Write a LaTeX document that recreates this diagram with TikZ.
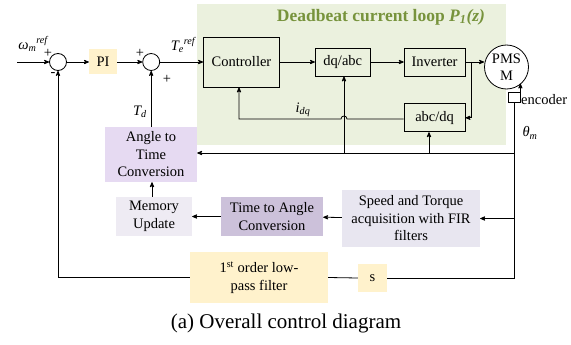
\documentclass[tikz,border=0pt]{standalone}
\usepackage{fontspec}
\setmainfont{Liberation Serif}
\usetikzlibrary{arrows, positioning, shapes}
\definecolor{my_green}{RGB}{235, 241, 222}
\definecolor{my_olive}{RGB}{119, 147, 60}
\definecolor{my_yellow}{RGB}{255, 242, 204}
\definecolor{my_lilac}{RGB}{230, 218, 242}
\definecolor{my_purple}{RGB}{204, 193, 218}
\definecolor{my_grey}{RGB}{238, 235, 243}
\definecolor{my_mist}{RGB}{232, 230, 240}
\tikzset {
  block/.style = {draw, line width=0.8pt, text centered, inner sep=2pt},
  flat/.style = {text centered, align=center, inner sep=2pt},
  junction/.style = {draw, line width=0.8pt, circle, fill=white, minimum size=17pt, inner sep=0},
  motor/.style = {draw, line width=0.8pt, circle, fill=white, minimum size=44pt, inner sep=0, align=center},
  line/.style = {->, line width=0.8pt, color=black, >=stealth'},
  wire/.style = {line width=0.8pt, color=black},
  sign/.style = {inner sep=0}
}

\begin{document}
\begin{tikzpicture}[x=1pt, y=-1pt, font=\fontsize{14.5}{17.5}\selectfont]
    \useasboundingbox (0,0) rectangle (571,345);
    \fill[my_green] (197,4) rectangle (506,145);
    \node[sign, text=my_olive, font=\fontsize{17.5}{20}\selectfont\bfseries] (title) at (381,17) {Deadbeat current loop \textit{P\textsubscript{1}(z)}};

    \node[junction] (sum1) at (58,62) {};
    \node[flat, fill=my_yellow, minimum width=28pt, minimum height=25pt, right=22pt of sum1] (pi) {PI};
    \node[junction, right=25pt of pi] (sum2) {};
    \node[block, minimum width=76pt, minimum height=50pt, right=43pt of sum2] (ctrl) {Controller};
    \node[block, minimum width=55pt, minimum height=28pt, right=35pt of ctrl] (dqabc) {dq/abc};
    \node[block, minimum width=61pt, minimum height=28pt, right=33pt of dqabc] (inv) {Inverter};
    \node[block, minimum width=61pt, minimum height=28pt, below=27pt of inv] (abcdq) {abc/dq};
    \node[motor] (pmsm) at (506.5,67) {PMS\\[-1pt]M};
    \node[draw, line width=0.8pt, fill=white, minimum width=12pt, minimum height=10pt, inner sep=0] (enc) at (514,97) {};

    \node[flat, fill=my_lilac, minimum width=92pt, minimum height=55pt] (a2t) at (151,154.5) {Angle to\\Time\\Conversion};
    \node[flat, fill=my_grey, minimum width=76pt, minimum height=39pt] (mem) at (154,216.5) {Memory\\Update};
    \node[flat, fill=my_purple, minimum width=102pt, minimum height=39pt] (t2a) at (272,216.5) {Time to Angle\\Conversion};
    \node[flat, fill=my_mist, minimum width=138pt, minimum height=57pt] (fir) at (411,218.5) {Speed and Torque\\acquisition with FIR\\filters};
    \node[flat, fill=my_yellow, minimum width=138pt, minimum height=51pt] (lpf) at (259,277.5) {1\textsuperscript{st} order low-\\pass filter};
    \node[flat, fill=my_yellow, minimum width=29pt, minimum height=28pt] (s) at (372.5,278) {s};

    % labels
    \node[sign] (wref) at (33,44) {\textit{ω\textsubscript{m}\textsuperscript{ref}}};
    \node[sign] (p1) at (48,53) {+};
    \node[sign] (m1) at (53,75) {-};
    \node[sign] (p2) at (140,53) {+};
    \node[sign] (p3) at (167,79) {+};
    \node[sign] (teref) at (183,45) {\textit{T\textsubscript{e}\textsuperscript{ref}}};
    \node[sign] (td) at (140,112) {\textit{T\textsubscript{d}}};
    \node[sign] (idq) at (303,110) {\textit{i\textsubscript{dq}}};
    \node[sign] (theta) at (530,133) {\textit{θ\textsubscript{m}}};
    \node[sign, anchor=west] (enctext) at (521,100) {encoder};
    \node[sign, font=\fontsize{21}{24}\selectfont] (caption) at (286,323) {(a) Overall control diagram};

    \coordinate (in) at (17,62);
    \coordinate (split) at (471,62);
    \coordinate (tapA) at (344,153);
    \coordinate (tapB) at (429,153);
    \coordinate (thtop) at (enc.south |- tapA);

    \draw[line] (in) -- (sum1);
    \draw[line] (sum1) -- (pi);
    \draw[line] (pi) -- (sum2);
    \draw[line] (sum2) -- (ctrl);
    \draw[line] (ctrl) -- (dqabc);
    \draw[line] (dqabc) -- (inv);
    \draw[line] (inv.east) -- (pmsm.west |- inv.east);
    \draw[line] (split) |- (abcdq.east);
    \draw[line] (abcdq.west |- 0,119) -- (347,119) .. controls (347,115) and (341,115) .. (341,119) -| (ctrl.south -| 239,0);
    \draw[line] (enc.north east) -- ++(0,-8);
    \draw[wire] (enc.south) -- (enc.south |- s.east) -- (s.east);
    \draw[wire] (s.west) -- (lpf.east);
    \draw[line] (lpf.west) -| (sum1.south);
    \draw[line] (thtop) -- (a2t.east |- thtop);
    \draw[line] (tapA) -- (tapA |- dqabc.south);
    \draw[line] (tapB) -- (tapB |- abcdq.south);
    \draw[line] (enc.south |- fir.east) -- (fir.east);
    \draw[line] (fir) -- (t2a);
    \draw[line] (t2a) -- (mem);
    \draw[line] (mem.north -| 152,0) -- (a2t.south -| 152,0);
    \draw[line] (a2t.north -| sum2.south) -- (sum2.south);

  \end{tikzpicture}
\end{document}
